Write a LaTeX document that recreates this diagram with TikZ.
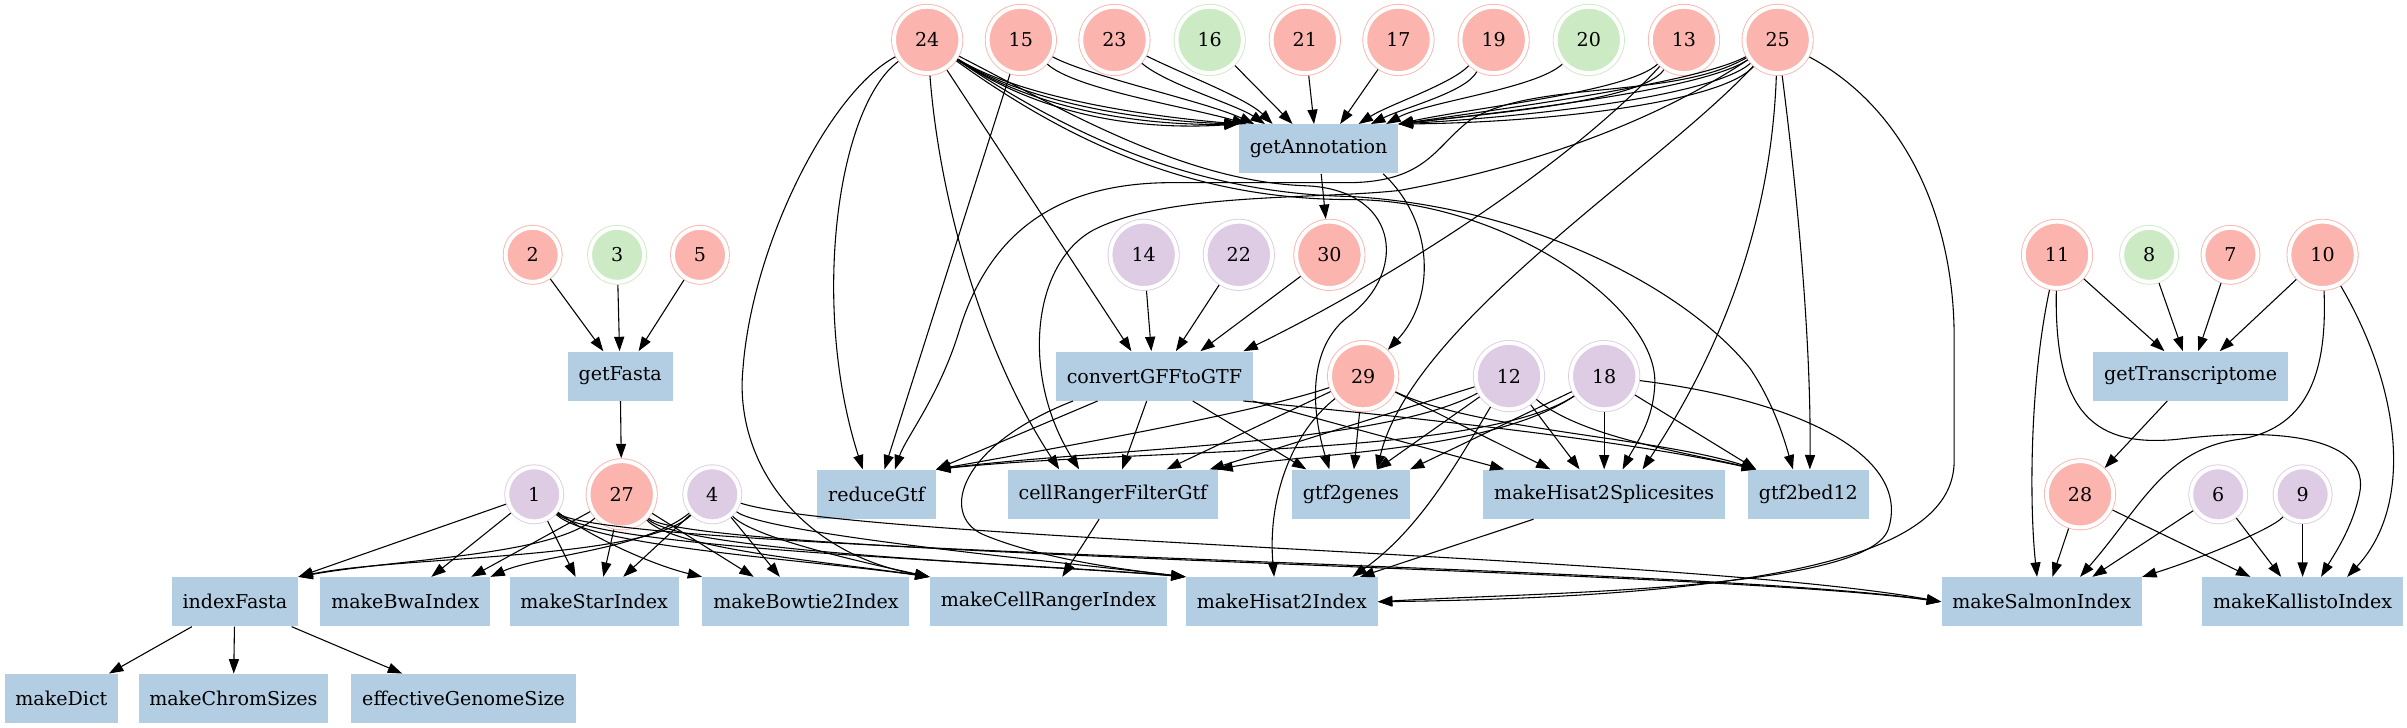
\documentclass[tikz,border=0pt]{standalone}
\usepackage{fontspec}
\setmainfont{DejaVu Serif}
\usepackage{tikz}
\usetikzlibrary{calc, arrows.meta}
\definecolor{ringred}{HTML}{FBB4AE}
\definecolor{ringgreen}{HTML}{CCEBC5}
\definecolor{ringlilac}{HTML}{DECBE4}
\definecolor{boxblue}{HTML}{B3CDE3}

\begin{document}
\begin{tikzpicture}[x=0.03cm, y=-0.03cm,
        font=\fontsize{10.6}{12}\selectfont,
        rulebox/.style={rectangle, fill=boxblue, inner xsep=6pt, inner ysep=0pt, minimum height=27.3pt},
        ring/.style={circle, draw=#1, fill=#1, double=white, double distance=2.2pt, line width=0.5pt, inner sep=0pt, outer sep=1.6pt, minimum size=36.9pt},
        onedigit/.style={minimum size=30.1pt},
        dep/.style={line width=0.6pt, arrows={-{Triangle[length=8pt, width=5.6pt]}}}]
        \useasboundingbox (0, 0) rectangle (1568, 474);
        \node [ring=ringred] (p24) at (604, 26) {24};
        \node [ring=ringred] (p15) at (665, 26) {15};
        \node [ring=ringred] (p23) at (726, 26) {23};
        \node [ring=ringgreen] (p16) at (788, 26) {16};
        \node [ring=ringred] (p21) at (850, 26) {21};
        \node [ring=ringred] (p17) at (911, 26) {17};
        \node [ring=ringred] (p19) at (973, 26) {19};
        \node [ring=ringgreen] (p20) at (1035, 26) {20};
        \node [ring=ringred] (p13) at (1097, 26) {13};
        \node [ring=ringred] (p25) at (1158, 26) {25};
        \node [rulebox] (getannot) at (859, 97) {getAnnotation};
        \node [ring=ringred, onedigit] (p2) at (347, 166) {2};
        \node [ring=ringgreen, onedigit] (p3) at (402, 166) {3};
        \node [ring=ringred, onedigit] (p5) at (456, 166) {5};
        \node [ring=ringlilac] (p14) at (745, 166) {14};
        \node [ring=ringlilac] (p22) at (807, 166) {22};
        \node [ring=ringred] (p30) at (866, 166) {30};
        \node [ring=ringred] (p11) at (1340, 166) {11};
        \node [ring=ringgreen, onedigit] (p8) at (1400, 166) {8};
        \node [ring=ringred, onedigit] (p7) at (1453, 166) {7};
        \node [ring=ringred] (p10) at (1513, 166) {10};
        \node [rulebox] (getfasta) at (404, 245) {getFasta};
        \node [rulebox] (gff2gtf) at (752, 245) {convertGFFtoGTF};
        \node [ring=ringred] (p29) at (888, 245) {29};
        \node [ring=ringlilac] (p12) at (983, 245) {12};
        \node [ring=ringlilac] (p18) at (1045, 245) {18};
        \node [rulebox] (transcriptome) at (1427, 245) {getTranscriptome};
        \node [ring=ringlilac, onedigit] (p1) at (348, 322) {1};
        \node [ring=ringred] (p27) at (405, 322) {27};
        \node [ring=ringlilac, onedigit] (p4) at (464, 322) {4};
        \node [rulebox] (reducegtf) at (571, 322) {reduceGtf};
        \node [rulebox] (crfilter) at (725, 322) {cellRangerFilterGtf};
        \node [rulebox] (gtf2genes) at (880, 322) {gtf2genes};
        \node [rulebox] (splicesites) at (1045, 322) {makeHisat2Splicesites};
        \node [rulebox] (bedtwelve) at (1178, 322) {gtf2bed12};
        \node [ring=ringred] (p28) at (1355, 322) {28};
        \node [ring=ringlilac, onedigit] (p6) at (1445, 322) {6};
        \node [ring=ringlilac, onedigit] (p9) at (1500, 322) {9};
        \node [rulebox] (indexfasta) at (153, 392) {indexFasta};
        \node [rulebox] (bwa) at (264, 392) {makeBwaIndex};
        \node [rulebox] (star) at (387, 392) {makeStarIndex};
        \node [rulebox] (bowtie) at (525, 392) {makeBowtie2Index};
        \node [rulebox] (crindex) at (683, 392) {makeCellRangerIndex};
        \node [rulebox] (hisat) at (835, 392) {makeHisat2Index};
        \node [rulebox] (salmonidx) at (1330, 392) {makeSalmonIndex};
        \node [rulebox] (kallisto) at (1500, 392) {makeKallistoIndex};
        \node [rulebox] (dict) at (40, 455) {makeDict};
        \node [rulebox] (chromsizes) at (152, 455) {makeChromSizes};
        \node [rulebox] (genomesize) at (302, 455) {effectiveGenomeSize};
        \draw [dep] (p24) .. controls (665, 64) and (750, 76) .. (getannot.north west);
        \draw [dep] (p24) .. controls (670, 68) and (748, 79) .. (getannot.north west);
        \draw [dep] (p24) .. controls (675, 72) and (745, 82) .. (getannot.north west);
        \draw [dep] (p24) .. controls (680, 76) and (742, 85) .. (getannot.north west);
        \draw [dep] (p15) .. controls (700, 58) and (775, 70) .. ($(getannot.north)+(-47, 0)$);
        \draw [dep] (p15) .. controls (710, 50) and (785, 66) .. ($(getannot.north)+(-42, 0)$);
        \draw [dep] (p23) .. controls (760, 55) and (805, 68) .. ($(getannot.north)+(-35, 0)$);
        \draw [dep] (p23) .. controls (770, 48) and (812, 64) .. ($(getannot.north)+(-30, 0)$);
        \draw [dep] (p16) -- ($(getannot.north)+(-17, 0)$);
        \draw [dep] (p21) -- ($(getannot.north)+(-3, 0)$);
        \draw [dep] (p17) -- ($(getannot.north)+(14, 0)$);
        \draw [dep] (p19) .. controls (945, 55) and (905, 68) .. ($(getannot.north)+(26, 0)$);
        \draw [dep] (p19) .. controls (955, 60) and (915, 70) .. ($(getannot.north)+(34, 0)$);
        \draw [dep] (p20) .. controls (1000, 58) and (930, 66) .. ($(getannot.north)+(44, 0)$);
        \draw [dep] (p13) .. controls (1060, 60) and (960, 70) .. (getannot.north east);
        \draw [dep] (p13) .. controls (1070, 66) and (970, 74) .. (getannot.north east);
        \draw [dep] (p25) .. controls (1105, 54) and (985, 70) .. (getannot.north east);
        \draw [dep] (p25) .. controls (1110, 58) and (990, 72) .. (getannot.north east);
        \draw [dep] (p25) .. controls (1115, 63) and (995, 76) .. (getannot.north east);
        \draw [dep] (p25) .. controls (1120, 68) and (1000, 80) .. (getannot.north east);
        \draw [dep] (getannot) -- (p30);
        \draw [dep] ($(getannot.south east)+(-10, 0)$) .. controls (935, 145) and (935, 195) .. (p29);
        \draw [dep] (p2) -- ($(getfasta.north)+(-11, 0)$);
        \draw [dep] (p3) -- (getfasta);
        \draw [dep] (p5) -- ($(getfasta.north)+(12, 0)$);
        \draw [dep] (getfasta) -- (p27);
        \draw [dep] (p24) -- ($(gff2gtf.north)+(-15, 0)$);
        \draw [dep] (p14) -- ($(gff2gtf.north)+(-2, 0)$);
        \draw [dep] (p22) -- ($(gff2gtf.north)+(14, 0)$);
        \draw [dep] (p30) -- ($(gff2gtf.north)+(30, 0)$);
        \draw [dep] (p13) .. controls (1020, 110) and (900, 185) .. ($(gff2gtf.north)+(58, 0)$);
        \draw [dep] ($(gff2gtf.south)+(-37, 0)$) -- (reducegtf.north east);
        \draw [dep] ($(gff2gtf.south)+(-53, 0)$) .. controls (625, 290) and (612, 335) .. (640, 348) .. controls (680, 365) and (740, 372) .. (hisat.north west);
        \draw [dep] ($(gff2gtf.south)+(-5, 0)$) -- ($(crfilter.north)+(6, 0)$);
        \draw [dep] ($(gff2gtf.south)+(25, 0)$) -- ($(gtf2genes.north)+(-29, 0)$);
        \draw [dep] ($(gff2gtf.south)+(64, 0)$) -- ($(splicesites.north)+(-65, 0)$);
        \draw [dep] ($(gff2gtf.south)+(58, 0)$) .. controls (900, 270) and (1050, 285) .. ($(bedtwelve.north)+(-34, 0)$);
        \draw [dep] (p29) .. controls (820, 268) and (700, 290) .. (reducegtf.north east);
        \draw [dep] (p29) -- ($(crfilter.north)+(35, 0)$);
        \draw [dep] (p29) .. controls (838, 285) and (826, 330) .. ($(hisat.north)+(-5, 0)$);
        \draw [dep] (p29) -- ($(gtf2genes.north)+(2, 0)$);
        \draw [dep] (p29) -- ($(splicesites.north)+(-35, 0)$);
        \draw [dep] (p29) .. controls (960, 280) and (1080, 285) .. ($(bedtwelve.north)+(-34, 0)$);
        \draw [dep] (p12) .. controls (900, 290) and (720, 292) .. (reducegtf.north east);
        \draw [dep] (p12) -- ($(crfilter.north)+(63, 0)$);
        \draw [dep] (p12) -- ($(gtf2genes.north)+(17, 0)$);
        \draw [dep] (p12) .. controls (950, 300) and (925, 345) .. ($(hisat.north)+(46, 0)$);
        \draw [dep] (p12) -- ($(splicesites.north)+(-16, 0)$);
        \draw [dep] (p12) .. controls (1030, 285) and (1100, 295) .. ($(bedtwelve.north)+(-34, 0)$);
        \draw [dep] (p18) .. controls (965, 298) and (740, 292) .. (reducegtf.north east);
        \draw [dep] (p18) .. controls (970, 295) and (850, 295) .. (crfilter.north east);
        \draw [dep] (p18) -- (gtf2genes.north east);
        \draw [dep] (p18) -- (splicesites);
        \draw [dep] (p18) -- ($(bedtwelve.north)+(-34, 0)$);
        \draw [dep] (p18) .. controls (1180, 262) and (1245, 300) .. (1230, 345) .. controls (1215, 385) and (1000, 386) .. (hisat.east);
        \draw [dep] (p25) .. controls (1090, 65) and (1000, 52) .. (958, 78) .. controls (935, 95) and (930, 118) .. (880, 119) -- (760, 119) .. controls (690, 120) and (645, 150) .. (625, 215) .. controls (612, 258) and (590, 285) .. ($(reducegtf.north)+(12, 0)$);
        \draw [dep] (p25) .. controls (1080, 78) and (1000, 108) .. (912, 124) .. controls (860, 130) and (760, 125) .. (712, 150) .. controls (672, 172) and (665, 245) .. ($(crfilter.north)+(-22, 0)$);
        \draw [dep] (p25) .. controls (1080, 110) and (920, 210) .. ($(gtf2genes.north)+(17, 0)$);
        \draw [dep] (p25) .. controls (1155, 110) and (1140, 200) .. ($(splicesites.north)+(25, 0)$);
        \draw [dep] (p25) .. controls (1170, 120) and (1180, 220) .. ($(bedtwelve.north)+(1, 0)$);
        \draw [dep] (p25) .. controls (1240, 70) and (1273, 140) .. (1273, 220) -- (1273, 300) .. controls (1273, 350) and (1200, 388) .. (hisat.east);
        \draw [dep] (p24) .. controls (545, 70) and (528, 200) .. ($(reducegtf.north)+(-9, 0)$);
        \draw [dep] (p24) .. controls (540, 60) and (490, 160) .. (484, 240) .. controls (478, 300) and (520, 360) .. (crindex.north west);
        \draw [dep] (p24) .. controls (612, 130) and (640, 230) .. ($(crfilter.north)+(-35, 0)$);
        \draw [dep] (p24) .. controls (690, 70) and (770, 118) .. (850, 121) .. controls (910, 123) and (918, 175) .. (880, 205) .. controls (850, 226) and (855, 270) .. ($(gtf2genes.north)+(-14, 0)$);
        \draw [dep] (p24) .. controls (700, 95) and (780, 130) .. (880, 130) .. controls (980, 130) and (1080, 200) .. (1078, 250) .. controls (1077, 275) and (1065, 290) .. ($(splicesites.north)+(12, 0)$);
        \draw [dep] (p24) .. controls (700, 90) and (780, 126) .. (880, 128) .. controls (1000, 135) and (1100, 190) .. (1140, 240) .. controls (1155, 262) and (1162, 285) .. ($(bedtwelve.north)+(-10, 0)$);
        \draw [dep] (p15) -- (reducegtf);
        \draw [dep] (p1) -- (indexfasta.north east);
        \draw [dep] (p1) -- ($(bwa.north)+(17, 0)$);
        \draw [dep] (p1) -- ($(star.north)+(-12, 0)$);
        \draw [dep] (p1) .. controls (385, 350) and (425, 368) .. (bowtie.north west);
        \draw [dep] (p1) .. controls (385, 356) and (520, 364) .. (crindex.north west);
        \draw [dep] (p1) .. controls (390, 358) and (660, 366) .. (hisat.north west);
        \draw [dep] (p1) .. controls (395, 360) and (1100, 368) .. (salmonidx.west);
        \draw [dep] (p27) .. controls (360, 362) and (260, 364) .. (indexfasta.north east);
        \draw [dep] (p27) -- ($(bwa.north)+(43, 0)$);
        \draw [dep] (p27) -- ($(star.north)+(6, 0)$);
        \draw [dep] (p27) -- ($(bowtie.north)+(-34, 0)$);
        \draw [dep] (p27) .. controls (440, 358) and (540, 366) .. (crindex.north west);
        \draw [dep] (p27) .. controls (445, 360) and (680, 368) .. (hisat.north west);
        \draw [dep] (p27) .. controls (450, 362) and (1100, 370) .. (salmonidx.west);
        \draw [dep] (p4) .. controls (420, 365) and (260, 362) .. (indexfasta.north east);
        \draw [dep] (p4) .. controls (420, 358) and (350, 362) .. (bwa.north east);
        \draw [dep] (p4) -- ($(star.north)+(19, 0)$);
        \draw [dep] (p4) -- ($(bowtie.north)+(-17, 0)$);
        \draw [dep] (p4) .. controls (490, 350) and (560, 366) .. (crindex.north west);
        \draw [dep] (p4) .. controls (500, 348) and (690, 366) .. (hisat.north west);
        \draw [dep] (p4) .. controls (560, 352) and (1100, 362) .. (salmonidx.west);
        \draw [dep] ($(crfilter.south)+(-9, 0)$) -- ($(crindex.north)+(9, 0)$);
        \draw [dep] ($(splicesites.south)+(-46, 0)$) -- ($(hisat.north)+(51, 0)$);
        \draw [dep] ($(indexfasta.south)+(-28, 0)$) -- ($(dict.north)+(31, 0)$);
        \draw [dep] (indexfasta) -- (chromsizes);
        \draw [dep] ($(indexfasta.south)+(37, 0)$) -- ($(genomesize.north)+(-40, 0)$);
        \draw [dep] (p11) -- ($(transcriptome.north)+(-17, 0)$);
        \draw [dep] (p8) -- ($(transcriptome.north)+(-5, 0)$);
        \draw [dep] (p7) -- ($(transcriptome.north)+(5, 0)$);
        \draw [dep] (p10) -- ($(transcriptome.north)+(19, 0)$);
        \draw [dep] (p11) .. controls (1322, 250) and (1322, 330) .. ($(salmonidx.north)+(-3, 0)$);
        \draw [dep] (p11) .. controls (1338, 270) and (1365, 292) .. (1420, 286) .. controls (1485, 278) and (1545, 285) .. (1537, 322) .. controls (1532, 345) and (1520, 362) .. ($(kallisto.north)+(12, 0)$);
        \draw [dep] (p10) .. controls (1516, 240) and (1505, 278) .. (1460, 286) .. controls (1410, 292) and (1395, 330) .. ($(salmonidx.north)+(25, 0)$);
        \draw [dep] (p10) .. controls (1565, 255) and (1572, 330) .. ($(kallisto.north)+(29, 0)$);
        \draw [dep] (transcriptome) -- (p28);
        \draw [dep] (p28) -- ($(salmonidx.north)+(7, 0)$);
        \draw [dep] (p28) -- ($(kallisto.north)+(-34, 0)$);
        \draw [dep] (p6) -- ($(salmonidx.north)+(33, 0)$);
        \draw [dep] (p6) -- ($(kallisto.north)+(-14, 0)$);
        \draw [dep] (p9) .. controls (1480, 345) and (1430, 365) .. (salmonidx.north east);
        \draw [dep] (p9) -- (kallisto);
\end{tikzpicture}
\end{document}
